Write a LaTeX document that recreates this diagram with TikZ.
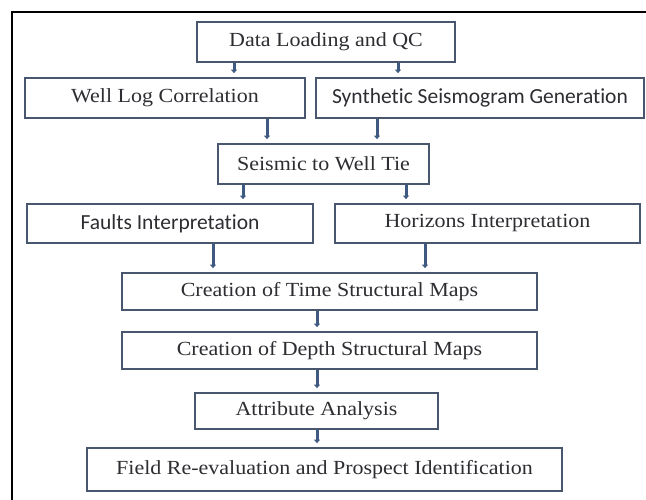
\documentclass[tikz,border=0pt]{standalone}
\usepackage{fontspec}
\setmainfont{Liberation Serif}[FakeStretch=1.1]
\newfontfamily\carl{Carlito}[Ligatures=NoCommon]
\usetikzlibrary{arrows.meta}
\definecolor{boxc}{RGB}{72,86,110}
\definecolor{arrc}{RGB}{62,90,128}
\definecolor{txtc}{RGB}{45,45,50}
\begin{document}
\begin{tikzpicture}[x=1pt,y=-1pt,
  stepbox/.style={draw=boxc,line width=1.8pt,fill=white,inner sep=0pt,text=txtc,
    font=\fontsize{20}{22}\selectfont},
  sansbox/.style={stepbox,font=\carl\fontsize{21.5}{24}\selectfont},
  arr/.style={draw=arrc,line width=3pt,-{Triangle[length=3.5pt,width=6pt]},shorten >=4pt}]
\useasboundingbox (0,0) rectangle (646,499);
\draw[line width=2pt,black] (12,520) -- (12,12) -- (670,12);
\node[stepbox,minimum width=258pt,minimum height=40pt] (dl) at (326,42) {Data Loading and QC};
\node[stepbox,minimum width=280pt,minimum height=40pt] (wl) at (165,98) {Well Log Correlation};
\node[sansbox,minimum width=328pt,minimum height=40pt] (ss) at (480,98) {Synthetic Seismogram Generation};
\node[stepbox,minimum width=211pt,minimum height=40pt] (st) at (323.5,164) {Seismic to Well Tie};
\node[sansbox,minimum width=286pt,minimum height=39pt] (fi) at (170,223.5) {Faults Interpretation};
\node[stepbox,minimum width=305pt,minimum height=39pt] (hi) at (487.5,223.5) {Horizons Interpretation};
\node[stepbox,minimum width=415pt,minimum height=37pt] (tm) at (329.5,291.5) {Creation of Time Structural Maps};
\node[stepbox,minimum width=415pt,minimum height=37pt] (dm) at (329.5,350.5) {Creation of Depth Structural Maps};
\node[stepbox,minimum width=243pt,minimum height=36pt] (aa) at (316.5,411) {Attribute Analysis};
\node[stepbox,minimum width=475pt,minimum height=43pt] (fr) at (324.5,469.5) {Field Re-evaluation and Prospect Identification};
\draw[arr] (234,0 |- dl.south) -- (234,0 |- wl.north);
\draw[arr] (398,0 |- dl.south) -- (398,0 |- ss.north);
\draw[arr] (267,0 |- wl.south) -- (267,0 |- st.north);
\draw[arr] (377,0 |- ss.south) -- (377,0 |- st.north);
\draw[arr] (243,0 |- st.south) -- (243,0 |- fi.north);
\draw[arr] (406,0 |- st.south) -- (406,0 |- hi.north);
\draw[arr] (213,0 |- fi.south) -- (213,0 |- tm.north);
\draw[arr] (425,0 |- hi.south) -- (425,0 |- tm.north);
\draw[arr] (317,0 |- tm.south) -- (317,0 |- dm.north);
\draw[arr] (317,0 |- dm.south) -- (317,0 |- aa.north);
\draw[arr] (317,0 |- aa.south) -- (317,0 |- fr.north);
\end{tikzpicture}
\end{document}
